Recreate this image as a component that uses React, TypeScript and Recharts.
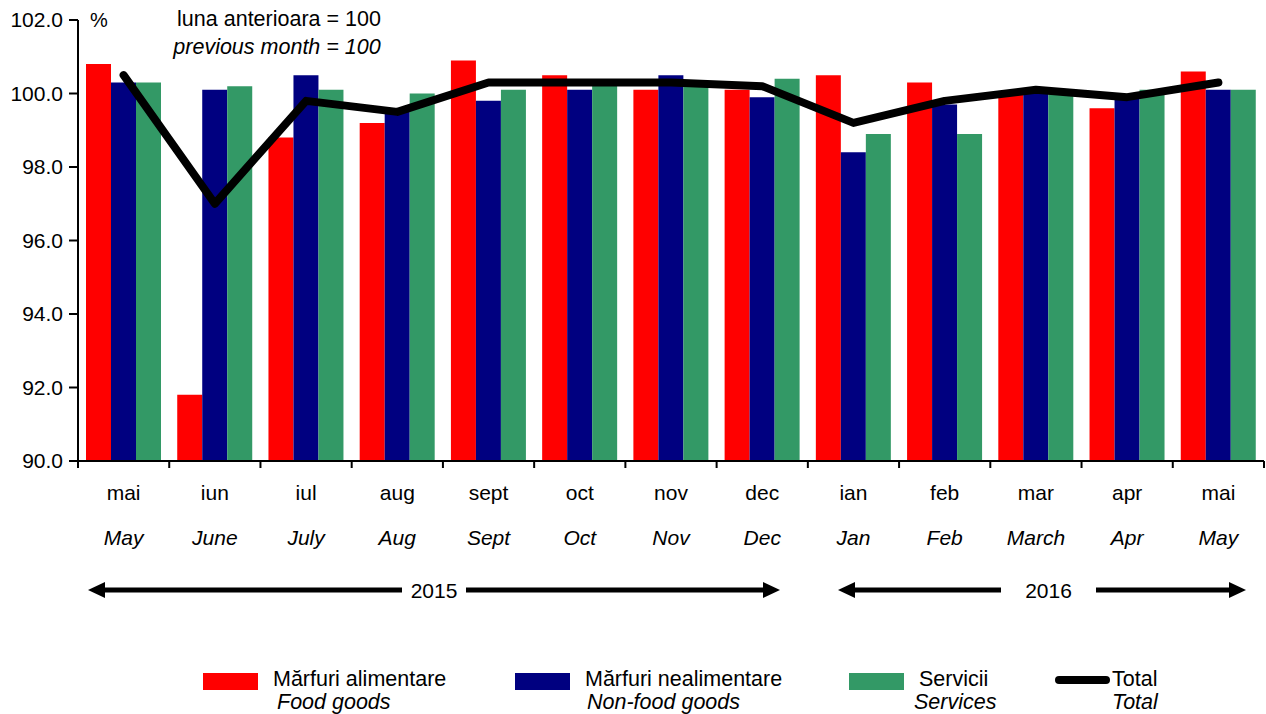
import React from "react";
import { ComposedChart, Bar, Line, XAxis, YAxis } from "recharts";

const MONTHS_RO = ["mai", "iun", "iul", "aug", "sept", "oct", "nov", "dec", "ian", "feb", "mar", "apr", "mai"];
const MONTHS_EN = ["May", "June", "July", "Aug", "Sept", "Oct", "Nov", "Dec", "Jan", "Feb", "March", "Apr", "May"];

const FOOD = [100.8, 91.8, 98.8, 99.2, 100.9, 100.5, 100.1, 100.1, 100.5, 100.3, 100.0, 99.6, 100.6];
const NON_FOOD = [100.3, 100.1, 100.5, 99.5, 99.8, 100.1, 100.5, 99.9, 98.4, 99.7, 100.1, 99.9, 100.1];
const SERVICES = [100.3, 100.2, 100.1, 100.0, 100.1, 100.3, 100.3, 100.4, 98.9, 98.9, 100.0, 100.1, 100.1];
const TOTAL = [100.5, 97.0, 99.8, 99.5, 100.3, 100.3, 100.3, 100.2, 99.2, 99.8, 100.1, 99.9, 100.3];

const Y_TICKS = [90, 92, 94, 96, 98, 100, 102];

const RED = "#ff0000";
const NAVY = "#000080";
const GREEN = "#339966";
const FONT = "'Liberation Sans', Arial, sans-serif";

const data = MONTHS_RO.map((m, i) => ({
  ro: m,
  food: FOOD[i],
  nonFood: NON_FOOD[i],
  services: SERVICES[i],
  total: TOTAL[i],
}));

function MonthTick(props: any) {
  const { x, y, payload, index } = props;
  const half = payload?.offset ?? 0;
  const last = index === MONTHS_RO.length - 1;
  return (
    <g>
      <line x1={x - half} x2={x - half} y1={y} y2={y + 7} stroke="#000" strokeWidth={2} />
      {last && <line x1={x + half} x2={x + half} y1={y} y2={y + 7} stroke="#000" strokeWidth={2} />}
      <text x={x} y={y + 39} textAnchor="middle" fontSize={21} fill="#000">{MONTHS_RO[index]}</text>
      <text x={x} y={y + 84} textAnchor="middle" fontSize={21} fontStyle="italic" fill="#000">{MONTHS_EN[index]}</text>
    </g>
  );
}

function YearArrow({ x1, x2, gapL, gapR, y, label }: { x1: number; x2: number; gapL: number; gapR: number; y: number; label: string }) {
  return (
    <g>
      <line x1={x1 + 14} x2={gapL} y1={y} y2={y} stroke="#000" strokeWidth={5} />
      <line x1={gapR} x2={x2 - 14} y1={y} y2={y} stroke="#000" strokeWidth={5} />
      <polygon points={`${x1},${y} ${x1 + 17},${y - 8} ${x1 + 17},${y + 8}`} fill="#000" />
      <polygon points={`${x2},${y} ${x2 - 17},${y - 8} ${x2 - 17},${y + 8}`} fill="#000" />
      <text x={(gapL + gapR) / 2} y={y + 8} textAnchor="middle" fontSize={21} fill="#000">{label}</text>
    </g>
  );
}

export default function App() {
  return (
    <div style={{ position: "absolute", left: 0, top: 0, width: 1266, height: 714, background: "#fff", fontFamily: FONT }}>
      <ComposedChart
        width={1266}
        height={714}
        data={data}
        margin={{ top: 20, right: 2, bottom: 0, left: 0 }}
        barCategoryGap={8}
        barGap={0}
      >
        <XAxis
          dataKey="ro"
          height={253}
          tickLine={false}
          tickSize={0}
          tickMargin={0}
          interval={0}
          axisLine={{ stroke: "#000", strokeWidth: 2 }}
          tick={<MonthTick />}
        />
        <YAxis
          width={78}
          domain={[90, 102]}
          ticks={Y_TICKS}
          interval={0}
          tickFormatter={(v) => v.toFixed(1)}
          tick={{ fontSize: 21, fill: "#000" }}
          tickSize={9}
          tickMargin={6}
          tickLine={{ stroke: "#000", strokeWidth: 2 }}
          axisLine={{ stroke: "#000", strokeWidth: 2 }}
        />
        <Bar dataKey="food" fill={RED} isAnimationActive={false} />
        <Bar dataKey="nonFood" fill={NAVY} isAnimationActive={false} />
        <Bar dataKey="services" fill={GREEN} isAnimationActive={false} />
        <Line
          type="linear"
          dataKey="total"
          stroke="#000"
          strokeWidth={8}
          strokeLinecap="round"
          strokeLinejoin="round"
          dot={false}
          activeDot={false}
          isAnimationActive={false}
        />
      </ComposedChart>

      <svg width={1266} height={714} style={{ position: "absolute", left: 0, top: 0, pointerEvents: "none" }} fontFamily={FONT}>
        <text x={90} y={27} fontSize={20} fill="#000">%</text>
        <text x={279} y={26} fontSize={21.5} textAnchor="middle" fill="#000">luna anterioara = 100</text>
        <text x={277} y={54} fontSize={21.5} textAnchor="middle" fontStyle="italic" fill="#000">previous month = 100</text>

        <YearArrow x1={88} x2={780} gapL={402} gapR={466} y={590} label="2015" />
        <YearArrow x1={838} x2={1246} gapL={1001} gapR={1096} y={590} label="2016" />

        <rect x={203} y={673} width={55} height={17} fill={RED} />
        <text x={273} y={686} fontSize={21.5} fill="#000">Mărfuri alimentare</text>
        <text x={277} y={709} fontSize={21.5} fontStyle="italic" fill="#000">Food goods</text>

        <rect x={515} y={673} width={55} height={17} fill={NAVY} />
        <text x={585} y={686} fontSize={21.5} fill="#000">Mărfuri nealimentare</text>
        <text x={587} y={709} fontSize={21.5} fontStyle="italic" fill="#000">Non-food goods</text>

        <rect x={849} y={673} width={55} height={17} fill={GREEN} />
        <text x={919} y={686} fontSize={21.5} fill="#000">Servicii</text>
        <text x={914} y={709} fontSize={21.5} fontStyle="italic" fill="#000">Services</text>

        <line x1={1059} x2={1106} y1={680} y2={680} stroke="#000" strokeWidth={8} strokeLinecap="round" />
        <text x={1112} y={686} fontSize={21.5} fill="#000">Total</text>
        <text x={1112} y={709} fontSize={21.5} fontStyle="italic" fill="#000">Total</text>
      </svg>
    </div>
  );
}
